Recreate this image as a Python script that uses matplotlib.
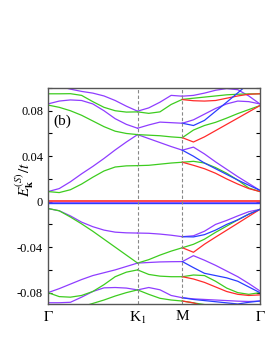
import numpy as np
import matplotlib
matplotlib.use("Agg")
import matplotlib.pyplot as plt
from matplotlib.ticker import MultipleLocator

plt.rcParams['font.family'] = 'Liberation Serif'
plt.rcParams['mathtext.fontset'] = 'stix'

PURPLE = '#8f3dff'
GREEN = '#3dcc1f'
RED = '#ff2a2a'
BLUE = '#2a3dff'

# k-path positions: Gamma, K1, M, Gamma (hexagonal lengths 1 : 1/2 : sqrt(3)/2)
k_ticks = [0.0, 1.0, 1.5, 2.366]
k_labels = [r'$\Gamma$', r'K$_1$', 'M', r'$\Gamma$']

k_GK = [0.0, 0.125, 0.25, 0.375, 0.5, 0.625, 0.75, 0.875, 1.0]
k_KM = [1.0, 1.125, 1.25, 1.375, 1.5]
k_MG = [1.5, 1.624, 1.747, 1.871, 1.995, 2.119, 2.242, 2.366]

# Gamma - K1
gk_purple = [
    [0.106, 0.1015, 0.099, 0.097, 0.0955, 0.093, 0.089, 0.084, 0.0796],
    [0.086, 0.0885, 0.0895, 0.089, 0.086, 0.080, 0.073, 0.068, 0.0646],
    [0.0089, 0.0115, 0.0175, 0.0245, 0.031, 0.038, 0.0455, 0.0525, 0.059],
    [-0.006, -0.008, -0.0125, -0.018, -0.022, -0.025, -0.0268, -0.0274, -0.0276],
    [-0.080, -0.0765, -0.0725, -0.0685, -0.065, -0.0625, -0.060, -0.057, -0.054],
    [-0.0889, -0.0889, -0.0885, -0.084, -0.079, -0.0758, -0.0755, -0.076, -0.0776],
]
gk_green = [
    [0.0949, 0.0949, 0.095, 0.0935, 0.088, 0.083, 0.080, 0.0788, 0.079],
    [0.085, 0.083, 0.080, 0.076, 0.071, 0.066, 0.062, 0.060, 0.059],
    [0.0089, 0.008, 0.0105, 0.0155, 0.0215, 0.027, 0.0305, 0.0315, 0.0317],
    [-0.006, -0.008, -0.0135, -0.0195, -0.026, -0.033, -0.040, -0.047, -0.054],
    [-0.080, -0.0835, -0.084, -0.0825, -0.079, -0.073, -0.066, -0.062, -0.060],
    [-0.100, -0.098, -0.096, -0.0925, -0.0895, -0.0865, -0.083, -0.080, -0.0776],
]

# K1 - M
km_purple = [
    [0.0796, 0.0825, 0.0875, 0.0935, 0.0928],
    [0.0646, 0.0675, 0.070, 0.0695, 0.069],
    [0.059, 0.0555, 0.052, 0.0485, 0.0453],
    [-0.0276, -0.0278, -0.0285, -0.0295, -0.0308],
    [-0.054, -0.0535, -0.053, -0.0528, -0.0527],
    [-0.0776, -0.0755, -0.0775, -0.0825, -0.0845],
]
km_green = [
    [0.079, 0.0777, 0.079, 0.0855, 0.090],
    [0.059, 0.0585, 0.058, 0.057, 0.0563],
    [0.0317, 0.032, 0.033, 0.034, 0.0347],
    [-0.054, -0.051, -0.047, -0.0435, -0.0405],
    [-0.060, -0.064, -0.0655, -0.066, -0.066],
    [-0.0776, -0.0815, -0.085, -0.0865, -0.0874],
]

# M - Gamma
mg_purple = [
    [0.0928, 0.0935, 0.0955, 0.098, 0.0995, 0.0985, 0.093, 0.086],
    [0.069, 0.072, 0.077, 0.082, 0.086, 0.0885, 0.088, 0.086],
    [0.0453, 0.048, 0.042, 0.035, 0.0285, 0.022, 0.016, 0.010],
    [-0.0308, -0.030, -0.026, -0.020, -0.0165, -0.0125, -0.0088, -0.0068],
    [-0.0527, -0.0475, -0.0515, -0.056, -0.061, -0.066, -0.072, -0.0785],
    [-0.0845, -0.0855, -0.086, -0.0865, -0.087, -0.0875, -0.0878, -0.0874],
]
mg_green = [
    [0.090, 0.091, 0.092, 0.093, 0.094, 0.0945, 0.0948, 0.0949],
    [0.0563, 0.063, 0.067, 0.0698, 0.0735, 0.0775, 0.081, 0.0845],
    [0.0347, 0.0355, 0.034, 0.030, 0.025, 0.019, 0.012, 0.0089],
    [-0.0405, -0.0375, -0.033, -0.027, -0.0215, -0.016, -0.011, -0.0068],
    [-0.066, -0.0645, -0.065, -0.070, -0.076, -0.080, -0.0815, -0.080],
    [-0.0874, -0.089, -0.0905, -0.092, -0.094, -0.096, -0.098, -0.100],
]
mg_red = [
    [0.0898, 0.0888, 0.0885, 0.089, 0.091, 0.093, 0.0945, 0.0949],
    [0.0563, 0.0525, 0.057, 0.0625, 0.068, 0.0735, 0.079, 0.0845],
    [0.0347, 0.032, 0.029, 0.025, 0.020, 0.0155, 0.0115, 0.0089],
    [-0.0405, -0.0445, -0.0374, -0.0312, -0.0251, -0.019, -0.0129, -0.0068],
    [-0.066, -0.068, -0.071, -0.075, -0.079, -0.0815, -0.0825, -0.082],
    [-0.0874, -0.089, -0.092, -0.095, -0.098, -0.101, -0.104, -0.107],
]
mg_blue = [
    [0.069, 0.067, 0.0715, 0.0795, 0.0875, 0.0957, 0.104, 0.112],
    [0.0453, 0.040, 0.034, 0.029, 0.024, 0.019, 0.0145, 0.010],
    [-0.0308, -0.031, -0.029, -0.025, -0.020, -0.016, -0.011, -0.0068],
    [-0.0527, -0.058, -0.063, -0.065, -0.067, -0.070, -0.075, -0.080],
    [-0.0845, -0.086, -0.087, -0.088, -0.089, -0.090, -0.0885, -0.0874],
]

# nearly flat bands around zero
flat_red = 0.0008
flat_blue = -0.0008
flat_purple = -0.0012

fig = plt.figure(figsize=(2.66, 3.44), dpi=100)
ax = fig.add_axes([0.1805, 0.1163, 0.7965, 0.6279])

lw = 0.9
for k, groups in [(k_GK, [(gk_purple, PURPLE), (gk_green, GREEN)]),
                  (k_KM, [(km_purple, PURPLE), (km_green, GREEN)]),
                  (k_MG, [(mg_purple, PURPLE), (mg_green, GREEN),
                          (mg_red, RED), (mg_blue, BLUE)])]:
    for bands, c in groups:
        for e in bands:
            ax.plot(k, e, color=c, lw=lw)

ax.axhline(flat_purple, color=PURPLE, lw=1.2)
ax.axhline(flat_blue, color=BLUE, lw=1.0)
ax.axhline(flat_red, color=RED, lw=1.2)

for kv in k_ticks[1:3]:
    ax.axvline(kv, color='#888888', lw=0.8, ls=(0, (3, 2)))

ax.set_xlim(k_ticks[0], k_ticks[-1])
ax.set_ylim(-0.09, 0.1)
ax.set_xticks(k_ticks)
ax.set_xticklabels(k_labels, fontsize=11)
ax.set_yticks([-0.08, -0.04, 0, 0.04, 0.08])
ax.set_yticklabels(['-0.08', '-0.04', '0', '0.04', '0.08'], fontsize=9)
ax.yaxis.set_minor_locator(MultipleLocator(0.02))
ax.tick_params(axis='y', which='both', direction='in', right=True, length=3, width=0.8)
ax.tick_params(axis='x', direction='in', length=0, pad=4)
for s in ax.spines.values():
    s.set_color('#555555')
    s.set_linewidth(1.0)

ax.text(0.16, 0.071, '(b)', fontsize=11, ha='center', va='center')
fig.text(25 / 266, 1 - 180 / 344, r'$E^{(S)}_{\mathbf{k}}/t$', fontsize=11,
         rotation=90, ha='center', va='center')

fig.savefig('out.png', dpi=100)
